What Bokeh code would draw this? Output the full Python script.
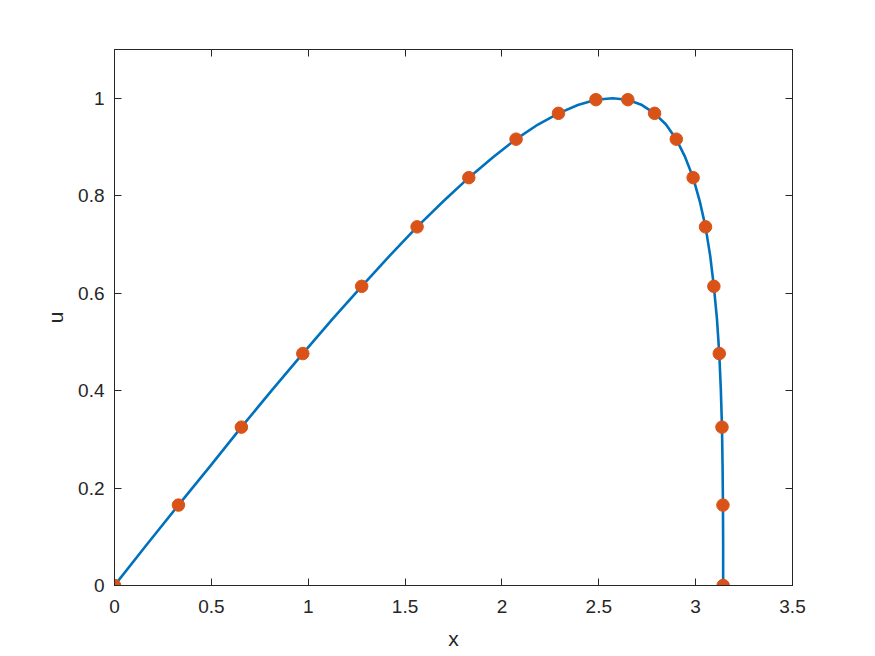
from bokeh.plotting import figure
from bokeh.models import FixedTicker, LinearAxis, Range1d
from bokeh.embed import file_html
from bokeh.resources import INLINE

# marker samples (x, u)
x_pts = [0.000, 0.330, 0.655, 0.972, 1.276, 1.562, 1.829, 2.073, 2.292, 2.485,
         2.650, 2.788, 2.900, 2.987, 3.051, 3.094, 3.122, 3.136, 3.141, 3.142]
u_pts = [0.000, 0.165, 0.325, 0.476, 0.614, 0.736, 0.837, 0.916, 0.969, 0.997,
         0.997, 0.969, 0.916, 0.837, 0.736, 0.614, 0.476, 0.325, 0.165, 0.000]

# solid curve (denser)
x_line = [0.000, 0.165, 0.330, 0.494, 0.655, 0.815, 0.972, 1.126, 1.276, 1.421,
          1.562, 1.699, 1.829, 1.954, 2.073, 2.186, 2.292, 2.392, 2.485, 2.571,
          2.650, 2.723, 2.788, 2.847, 2.900, 2.946, 2.987, 3.021, 3.051, 3.075,
          3.094, 3.110, 3.122, 3.130, 3.136, 3.139, 3.141, 3.142, 3.142]
u_line = [0.000, 0.083, 0.165, 0.245, 0.325, 0.402, 0.476, 0.547, 0.614, 0.677,
          0.736, 0.789, 0.837, 0.879, 0.916, 0.946, 0.969, 0.986, 0.997, 1.000,
          0.997, 0.986, 0.969, 0.946, 0.916, 0.879, 0.837, 0.789, 0.736, 0.677,
          0.614, 0.547, 0.476, 0.402, 0.325, 0.245, 0.165, 0.083, 0.000]

x_ticks = [0, 0.5, 1, 1.5, 2, 2.5, 3, 3.5]
x_tick_labels = ["0", "0.5", "1", "1.5", "2", "2.5", "3", "3.5"]
y_ticks = [0, 0.2, 0.4, 0.6, 0.8, 1.0]
y_tick_labels = ["0", "0.2", "0.4", "0.6", "0.8", "1"]

AX = "#262626"
FONT = "Liberation Sans"

p = figure(width=859, height=656, output_backend="svg", toolbar_location=None,
           x_range=Range1d(0, 3.5), y_range=Range1d(0, 1.1),
           min_border_left=114, min_border_right=67, min_border_top=49,
           min_border_bottom=71)
p.background_fill_color = "white"
p.border_fill_color = "white"
p.outline_line_color = AX
p.outline_line_width = 1
p.xgrid.visible = False
p.ygrid.visible = False

p.line(x_line, u_line, line_color="#0072BD", line_width=2.6)
p.scatter(x_pts, u_pts, size=12.5, fill_color="#D95319", line_color="#D95319")

def style(ax, ticks, labels, show_labels=True):
    ax.ticker = FixedTicker(ticks=ticks)
    ax.major_label_overrides = {t: l for t, l in zip(ticks, labels)}
    ax.major_tick_in = 7
    ax.major_tick_out = 0
    ax.minor_tick_line_color = None
    ax.major_tick_line_color = AX
    ax.axis_line_color = AX
    ax.major_label_text_font = FONT
    ax.major_label_text_font_size = "19px"
    ax.major_label_text_color = AX
    ax.axis_label_text_font = FONT
    ax.axis_label_text_font_size = "21px"
    ax.axis_label_text_font_style = "normal"
    ax.axis_label_text_color = AX
    if not show_labels:
        ax.major_label_text_alpha = 0
        ax.major_label_text_font_size = "1px"

xa = p.xaxis[0]
style(xa, x_ticks, x_tick_labels)
xa.axis_label = "x"
xa.major_label_standoff = 14
xa.axis_label_standoff = 11

ya = p.yaxis[0]
style(ya, y_ticks, y_tick_labels)
ya.axis_label = "u"
ya.major_label_standoff = 10
ya.axis_label_standoff = 8

top = LinearAxis()
style(top, x_ticks, [""] * len(x_ticks), show_labels=False)
p.add_layout(top, "above")
right = LinearAxis()
style(right, y_ticks, [""] * len(y_ticks), show_labels=False)
p.add_layout(right, "right")

open("out.html", "w").write(file_html(p, INLINE))
